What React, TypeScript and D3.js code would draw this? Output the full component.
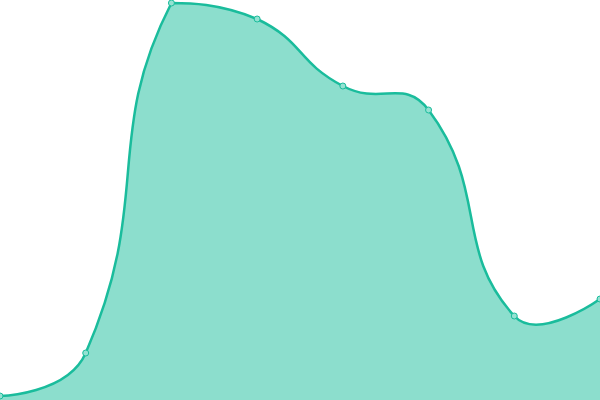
import React from "react";
import * as d3 from "d3";

const categories = ["P1", "P2", "P3", "P4", "P5", "P6", "P7", "P8"];
const values = [4, 47, 397, 381, 314, 290, 84, 101];
const yDomain = [0, 400];

const WIDTH = 600;
const HEIGHT = 400;
const LINE_COLOR = "#1abc9c";
const AREA_COLOR = "#8cdecd";
const POINT_FILL = "#94e2d2";
const SMOOTH = 0.5;

// Smooth bezier curve (segment-length weighted control points, clamped to the points' bounding box)
function curveSmooth(smooth: number) {
  return (context: any) => {
    let xs: number[] = [];
    let ys: number[] = [];
    let lineFlag: number = NaN;
    return {
      areaStart() {
        lineFlag = 0;
      },
      areaEnd() {
        lineFlag = NaN;
      },
      lineStart() {
        xs = [];
        ys = [];
      },
      point(x: number, y: number) {
        xs.push(+x);
        ys.push(+y);
      },
      lineEnd() {
        const n = xs.length;
        if (n) {
          if (lineFlag) context.lineTo(xs[0], ys[0]);
          else context.moveTo(xs[0], ys[0]);
          const minX = Math.min(...xs), maxX = Math.max(...xs);
          const minY = Math.min(...ys), maxY = Math.max(...ys);
          const cx = (v: number) => Math.max(minX, Math.min(maxX, v));
          const cy = (v: number) => Math.max(minY, Math.min(maxY, v));
          let cp0x = xs[0], cp0y = ys[0];
          for (let i = 1; i < n; i++) {
            const x = xs[i], y = ys[i];
            let cp1x = x, cp1y = y;
            let nx0 = x, ny0 = y;
            if (i < n - 1) {
              const px = xs[i - 1], py = ys[i - 1];
              const qx = xs[i + 1], qy = ys[i + 1];
              const vx = qx - px, vy = qy - py;
              const lp = Math.hypot(x - px, y - py);
              const ln = Math.hypot(qx - x, qy - y);
              const r = ln / (ln + lp || 1);
              cp1x = x - vx * smooth * (1 - r);
              cp1y = y - vy * smooth * (1 - r);
              nx0 = x + vx * smooth * r;
              ny0 = y + vy * smooth * r;
            }
            context.bezierCurveTo(cx(cp0x), cy(cp0y), cx(cp1x), cy(cp1y), x, y);
            cp0x = nx0;
            cp0y = ny0;
          }
        }
        if (lineFlag || (lineFlag !== 0 && n === 1)) context.closePath();
        lineFlag = 1 - lineFlag;
      },
    };
  };
}

export default function App() {
  const x = d3.scalePoint<string>().domain(categories).range([0, WIDTH]);
  const y = d3.scaleLinear().domain(yDomain).range([HEIGHT, 0]);

  const data = categories.map((c, i) => ({ c, v: values[i] }));

  const area = d3
    .area<{ c: string; v: number }>()
    .x((d) => x(d.c) as number)
    .y0(y(0))
    .y1((d) => y(d.v))
    .curve(curveSmooth(SMOOTH) as any);

  const line = d3
    .line<{ c: string; v: number }>()
    .x((d) => x(d.c) as number)
    .y((d) => y(d.v))
    .curve(curveSmooth(SMOOTH) as any);

  return (
    <svg
      width={WIDTH}
      height={HEIGHT}
      style={{ position: "absolute", left: 0, top: 0, display: "block" }}
    >
      <path d={area(data) || ""} fill={AREA_COLOR} stroke="none" />
      <path d={line(data) || ""} fill="none" stroke={LINE_COLOR} strokeWidth={2.5} />
      {data.map((d) => (
        <circle
          key={d.c}
          cx={x(d.c) as number}
          cy={y(d.v)}
          r={3}
          fill={POINT_FILL}
          stroke={LINE_COLOR}
          strokeWidth={1}
        />
      ))}
    </svg>
  );
}
